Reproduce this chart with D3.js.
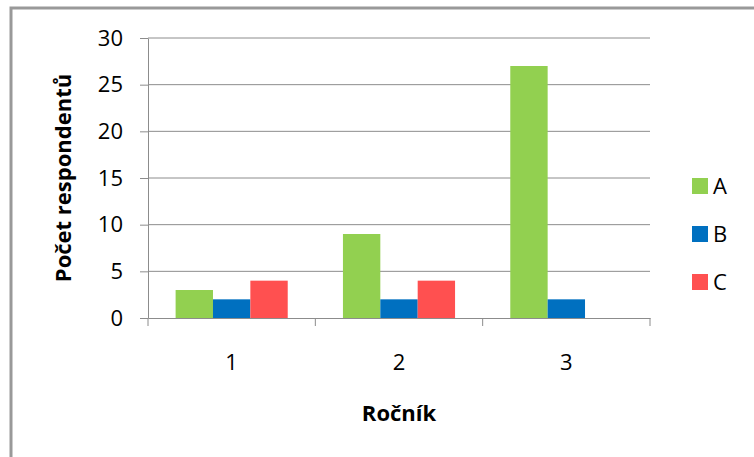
<!DOCTYPE html>
<html>
<head>
<meta charset="utf-8">
<script src="https://cdn.jsdelivr.net/npm/d3@7"></script>
<style>
body{margin:0;background:#fff;}
text{font-family:"Open Sans","Noto Sans",sans-serif;fill:#000;}
</style>
</head>
<body>
<div id="chart"></div>
<script>
var categories = ["1","2","3"];
var seriesNames = ["A","B","C"];
var seriesColors = ["#92d050","#0070c0","#ff5050"];
var valuesA = [3,9,27];
var valuesB = [2,2,2];
var valuesC = [4,4,0];
var yTicks = [0,5,10,15,20,25,30];

var W = 754, H = 457;
var margin = {top:38,left:148,right:104,bottom:139};
var width = W-margin.left-margin.right,
	height = H-margin.top-margin.bottom;
var fs = "22px";

var svg = d3.select("#chart").append("svg").attr("width",W).attr("height",H);

// outer frame
svg.append("rect").attr("x",11).attr("y",8).attr("width",W+10).attr("height",H+10)
	.attr("fill","none").attr("stroke","#999").attr("stroke-width",3);

var g = svg.append("g").attr("transform","translate("+margin.left+","+margin.top+")");

var x = d3.scaleBand().domain(categories).range([0,width]);
var y = d3.scaleLinear().domain([0,30]).range([height,0]);
// bars take the middle ~67% of each band
var xInner = d3.scaleBand().domain(seriesNames)
	.range([x.bandwidth()*0.165, x.bandwidth()*0.835]);

// grid
g.selectAll(".grid").data(yTicks.slice(1)).join("line")
	.attr("x1",0).attr("x2",width)
	.attr("y1",d=>y(d)).attr("y2",d=>y(d))
	.attr("stroke","#8c8c8c").attr("stroke-width",1);

var data = categories.map(function(c,i){
	return {cat:c, vals:[valuesA[i],valuesB[i],valuesC[i]]};
});

var groups = g.selectAll(".grp").data(data).join("g")
	.attr("transform",d=>"translate("+x(d.cat)+",0)");
groups.selectAll("rect").data(d=>d.vals.map((v,j)=>({s:seriesNames[j],v:v,c:seriesColors[j]})))
	.join("rect")
	.attr("x",d=>xInner(d.s))
	.attr("width",xInner.bandwidth())
	.attr("y",d=>y(d.v))
	.attr("height",d=>height-y(d.v))
	.attr("fill",d=>d.c);

// y axis
var yAxis = g.append("g").call(d3.axisLeft(y).tickValues(yTicks).tickSize(8).tickSizeOuter(0).tickPadding(17));
yAxis.select(".domain").attr("stroke","#8c8c8c");
yAxis.selectAll(".tick line").attr("stroke","#8c8c8c");
yAxis.selectAll("text").style("font-size",fs).attr("font-family",null);

// x axis
var xAxis = g.append("g").attr("transform","translate(0,"+height+")")
	.call(d3.axisBottom(x).tickSize(0).tickPadding(36));
xAxis.select(".domain").attr("stroke","#8c8c8c");
xAxis.selectAll("text").style("font-size",fs).attr("font-family",null);
xAxis.selectAll(".sep").data(d3.range(categories.length+1)).join("line")
	.attr("x1",d=>d*x.step()).attr("x2",d=>d*x.step())
	.attr("y1",0).attr("y2",8).attr("stroke","#8c8c8c");

// axis titles
svg.append("text").attr("x",399).attr("y",421).attr("text-anchor","middle")
	.style("font-size",fs).style("font-weight","bold").text("Ročník");
svg.append("text").attr("transform","translate(71,178) rotate(-90)").attr("text-anchor","middle")
	.style("font-size",fs).style("font-weight","bold").text("Počet respondentů");

// legend
var legend = svg.selectAll(".leg").data(seriesNames).join("g")
	.attr("transform",(d,i)=>"translate(692,"+(178+i*48)+")");
legend.append("rect").attr("width",16).attr("height",16).attr("fill",(d,i)=>seriesColors[i]);
legend.append("text").attr("x",21).attr("y",16).style("font-size",fs).text(d=>d);
</script>
</body>
</html>
